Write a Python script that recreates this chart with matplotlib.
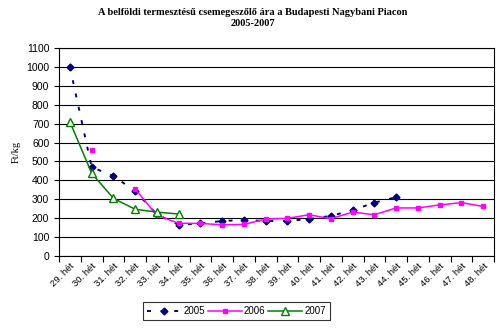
import numpy as np
import matplotlib.pyplot as plt

# hetek (29-48)
weeks = [f"{w}. hét" for w in range(29, 49)]
nan = np.nan

# Ft/kg arak
price_2005 = [1000, 470, 423, 343, 220, 165, 172, 185, 190, 185,
              185, 195, 212, 242, 282, 311, nan, nan, nan, nan]
price_2006 = [nan, 558, nan, 355, 215, 173, 172, 165, 167, 195,
              199, 218, 197, 232, 218, 254, 254, 270, 282, 262]
price_2007 = [710, 438, 305, 247, 232, 222, nan, nan, nan, nan,
              nan, nan, nan, nan, nan, nan, nan, nan, nan, nan]

fig = plt.figure(figsize=(5.0, 3.29), dpi=100)
ax = fig.add_axes([0.118, 0.222, 0.870, 0.632])

x = np.arange(len(weeks))
ax.plot(x, price_2005, color='#000080', linestyle=(0, (2, 5)), linewidth=1.4,
        marker='D', markersize=3.5, label='2005')
ax.plot(x, price_2006, color='#FF00FF', linewidth=1.1,
        marker='s', markersize=3.5, label='2006')
ax.plot(x, price_2007, color='#008000', linewidth=1.1,
        marker='^', markersize=5.5, markerfacecolor='white', label='2007')

ax.set_xlim(-0.5, len(weeks) - 0.5)
ax.set_ylim(0, 1100)
ax.set_yticks(range(0, 1101, 100))
ax.grid(axis='y', color='black', linewidth=0.8)
ax.set_axisbelow(True)

# tick-ek a kategoriak hataran, feliratok kozepen
ax.set_xticks(np.arange(-0.5, len(weeks), 1))
ax.set_xticklabels([])
ax.set_xticks(x, minor=True)
ax.set_xticklabels(weeks, minor=True, rotation=45, ha='right', va='top',
                   fontsize=6.8, family='Liberation Sans', rotation_mode='anchor')
ax.tick_params(axis='x', which='minor', length=0, pad=4)
ax.tick_params(axis='x', which='major', length=4)
ax.tick_params(axis='y', labelsize=7.5)
for lab in ax.get_yticklabels():
    lab.set_family('Liberation Sans')

ax.set_ylabel('Ft/kg', family='Liberation Serif', fontsize=7.5)

fig.suptitle('A belföldi termesztésű csemegeszőlő ára a Budapesti Nagybani Piacon\n2005-2007',
             x=0.505, y=0.975, fontsize=7.5, fontweight='bold', family='Liberation Serif',
             linespacing=1.3)

leg = fig.legend(loc='center', bbox_to_anchor=(0.473, 0.055), ncol=3, fontsize=7,
                 frameon=True, fancybox=False, edgecolor='black', handlelength=3.5,
                 columnspacing=0.3, handletextpad=0.2, borderpad=0.4)
leg.get_frame().set_linewidth(0.8)
for t in leg.get_texts():
    t.set_family('Liberation Sans')

fig.savefig('out.png', dpi=100)
